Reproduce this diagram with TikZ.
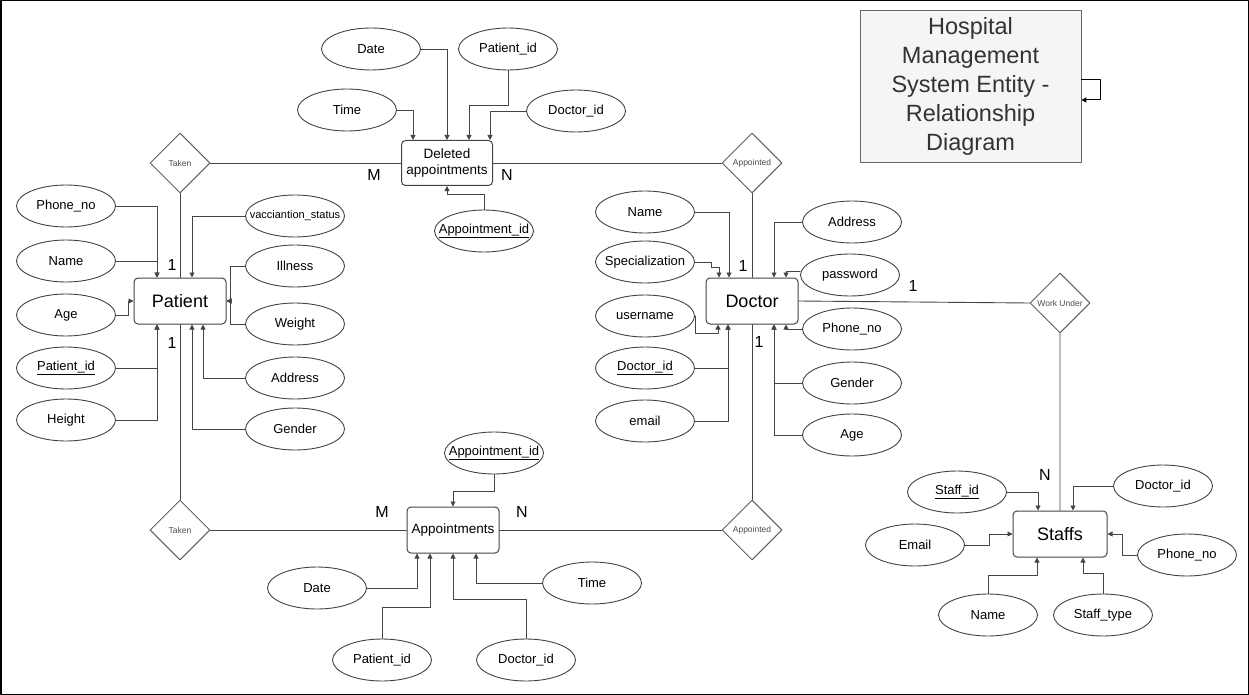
\documentclass[tikz,border=0pt]{standalone}
\usepackage{fontspec}
\setmainfont{Liberation Sans}
\usetikzlibrary{shapes.geometric,arrows.meta}
\definecolor{lncol}{RGB}{68,68,68}
\definecolor{ttlfill}{RGB}{245,245,245}
\definecolor{ttlline}{RGB}{102,102,102}
\definecolor{ttltext}{RGB}{51,51,51}
\newcommand{\erfs}[1]{\fontsize{#1}{#1}\selectfont}
\begin{document}
\begin{tikzpicture}[x=1pt,y=-1pt,line join=round,line cap=round,>={Triangle[length=5pt,width=5pt]},
	attr/.style={ellipse,draw=lncol,fill=white,line width=0.9pt,minimum width=99,minimum height=42,inner xsep=-14pt,inner ysep=0pt,font=\erfs{13}},
	entity/.style={rectangle,rounded corners=4pt,draw=lncol,line width=1pt,fill=white,minimum width=92,minimum height=46,inner sep=0pt},
	rel/.style={diamond,draw=lncol!85,line width=1pt,fill=white,minimum width=60,minimum height=60,inner sep=0pt,text=black!70,font=\erfs{8.5}},
	card/.style={font=\erfs{16},inner sep=0pt},
	conn/.style={draw=lncol,line width=0.9pt}]
			\useasboundingbox (0,0) rectangle (1249,695);
			\draw[line width=1.5pt] (0.75,0.75) rectangle (1248.25,694.25);
			\node[rel] (takT) at (180,163) {Taken};
			\node[rel] (takB) at (180,530) {Taken};
			\node[rel] (appT) at (752,163) {Appointed};
			\node[rel] (appB) at (752,530) {Appointed};
			\node[rel] (work) at (1060,303) {Work Under};
			\node[entity,font=\erfs{18}] (pat) at (180,301) {Patient};
			\node[entity,font=\erfs{18}] (doc) at (752,301) {Doctor};
			\node[entity,font=\erfs{18},minimum width=94] (staff) at (1060,534) {Staffs};
			\node[entity,minimum width=91,minimum height=45,align=center,font=\fontsize{13.5}{16.5}\selectfont] (del) at (447,163) {Deleted\\appointments};
			\node[entity,font=\erfs{13.5}] (app) at (453,530) {Appointments};
			\draw[conn] (takT.east) -- (del.west) (del.east) -- (appT.west);
			\draw[conn] (takT.south) -- (pat.north) (pat.south) -- (takB.north);
			\draw[conn] (takB.east) -- (app.west) (app.east) -- (appB.west);
			\draw[conn] (appT.south) -- (doc.north) (doc.south) -- (appB.north);
			\draw[conn] (doc.east) -- (work.west) (work.south) -- (staff.north);
			\node[card] (mtop) at (374,175) {M};
			\node[card] (ntop) at (507,175) {N};
			\node[card] (mbot) at (382,512) {M};
			\node[card] (nbot) at (522,512) {N};
			\node[card] (onepa) at (172,265) {1};
			\node[card] (onepb) at (172,343) {1};
			\node[card] (oneda) at (743,266) {1};
			\node[card] (onedb) at (759,342) {1};
			\node[card] (onedw) at (913,286) {1};
			\node[card] (nstaff) at (1045,475) {N};
			\node[attr] (dldate) at (371,49) {Date};
			\node[attr] (dlpid) at (508,49) {Patient\_id};
			\node[attr] (dltime) at (347,110) {Time};
			\node[attr] (dldid) at (576,111) {Doctor\_id};
			\node[attr] (dlapid) at (484,231) {\underline{Appointment\_id}};
			\draw[conn,->] (dldate.east) -| (del.north);
			\draw[conn,->] (dlpid.south) -- ++(0,35) -| ([xshift=22pt]del.north);
			\draw[conn,->] (dltime.east) -| ([xshift=-34pt]del.north);
			\draw[conn,->] (dldid.west) -| ([xshift=43pt]del.north);
			\draw[conn,->] (dlapid.north) -- ++(0,-15) -| (del.south);
			\node[attr] (pphone) at (66,206) {Phone\_no};
			\node[attr] (pname) at (66,261) {Name};
			\node[attr] (page) at (66,315) {Age};
			\node[attr] (ppid) at (66,368) {\underline{Patient\_id}};
			\node[attr] (pheight) at (66,420) {Height};
			\node[attr,font=\erfs{11}] (pvacc) at (295,216) {vacciantion\_status};
			\node[attr] (pill) at (295,266) {Illness};
			\node[attr] (pweight) at (295,324) {Weight};
			\node[attr] (paddr) at (295,378) {Address};
			\node[attr] (pgender) at (295,429) {Gender};
			\draw[conn,->] (pphone.east) -| ([xshift=-23pt]pat.north);
			\draw[conn,->] (pname.east) -| ([xshift=-23pt]pat.north);
			\draw[conn,->] (page.east) -- ++(12,0) |- (pat.west);
			\draw[conn,->] (ppid.east) -| ([xshift=-23pt]pat.south);
			\draw[conn,->] (pheight.east) -| ([xshift=-23pt]pat.south);
			\draw[conn,->] (pvacc.west) -| ([xshift=12pt]pat.north);
			\draw[conn,->] (pill.west) -- ++(-15,0) |- (pat.east);
			\draw[conn,->] (pweight.west) -- ++(-15,0) |- (pat.east);
			\draw[conn,->] (paddr.west) -| ([xshift=23pt]pat.south);
			\draw[conn,->] (pgender.west) -| ([xshift=12pt]pat.south);
			\node[attr] (dname) at (645,212) {Name};
			\node[attr] (dspec) at (645,262) {Specialization};
			\node[attr] (duser) at (645,316) {username};
			\node[attr] (ddid) at (645,368) {\underline{Doctor\_id}};
			\node[attr] (demail) at (645,421) {email};
			\node[attr] (daddr) at (852,222) {Address};
			\node[attr] (dpass) at (850,275) {password};
			\node[attr] (dphone) at (852,329) {Phone\_no};
			\node[attr] (dgender) at (852,383) {Gender};
			\node[attr] (dage) at (852,435) {Age};
			\draw[conn,->] (dname.east) -| ([xshift=-23pt]doc.north);
			\draw[conn,->] (dspec.east) -- ++(16,0) -- ++(0,5) -| ([xshift=-33pt]doc.north);
			\draw[conn,->] (duser.east) -- ++(0,17) -| ([xshift=-34pt]doc.south);
			\draw[conn,->] (ddid.east) -| ([xshift=-24pt]doc.south);
			\draw[conn,->] (demail.east) -| ([xshift=-24pt]doc.south);
			\draw[conn,->] (daddr.west) -| ([xshift=22pt]doc.north);
			\draw[conn,->] ([yshift=4pt]dpass.west) -| ([xshift=34pt]doc.north);
			\draw[conn,->] (dphone.west) -| ([xshift=34pt]doc.south);
			\draw[conn,->] (dgender.west) -| ([xshift=22pt]doc.south);
			\draw[conn,->] (dage.west) -| ([xshift=22pt]doc.south);
			\node[attr] (aapid) at (494,453) {\underline{Appointment\_id}};
			\node[attr] (adate) at (317,588) {Date};
			\node[attr] (apid) at (382,660) {Patient\_id};
			\node[attr] (adid) at (526,660) {Doctor\_id};
			\node[attr] (atime) at (592,583) {Time};
			\draw[conn,->] (aapid.south) -- ++(0,17) -| (app.north);
			\draw[conn,->] (adate.east) -| ([xshift=-36pt]app.south);
			\draw[conn,->] (apid.north) -- ++(0,-31) -| ([xshift=-23pt]app.south);
			\draw[conn,->] (adid.north) -- ++(0,-39) -| (app.south);
			\draw[conn,->] (atime.west) -| ([xshift=23pt]app.south);
			\node[attr] (sid) at (957,492) {\underline{Staff\_id}};
			\node[attr] (sdid) at (1163,486) {Doctor\_id};
			\node[attr] (semail) at (915,545) {Email};
			\node[attr] (sphone) at (1187,555) {Phone\_no};
			\node[attr] (sname) at (988,615) {Name};
			\node[attr] (stype) at (1103,615) {Staff\_type};
			\draw[conn,->] (sid.east) -| ([xshift=-22pt]staff.north);
			\draw[conn,->] (sdid.west) -| ([xshift=13pt]staff.north);
			\draw[conn,->] (semail.east) -- ++(24,0) |- (staff.west);
			\draw[conn,->] (sphone.west) -- ++(-15,0) |- (staff.east);
			\draw[conn,->] (sname.north) -- ++(0,-18) -| ([xshift=-23pt]staff.south);
			\draw[conn,->] (stype.north) -- ++(0,-20) -| ([xshift=23pt]staff.south);
			\node[draw=ttlline,fill=ttlfill,line width=0.8pt,minimum width=221,minimum height=152,inner sep=0pt,text=ttltext,align=center,font=\fontsize{23.5}{29}\selectfont] (title) at (970.5,86) {Hospital\\Management\\System Entity -\\Relationship\\Diagram};
			\draw[line width=1pt,->] ([yshift=6pt]title.east) -- ++(19,0) |- ([yshift=-14pt]title.east);
\end{tikzpicture}
\end{document}
